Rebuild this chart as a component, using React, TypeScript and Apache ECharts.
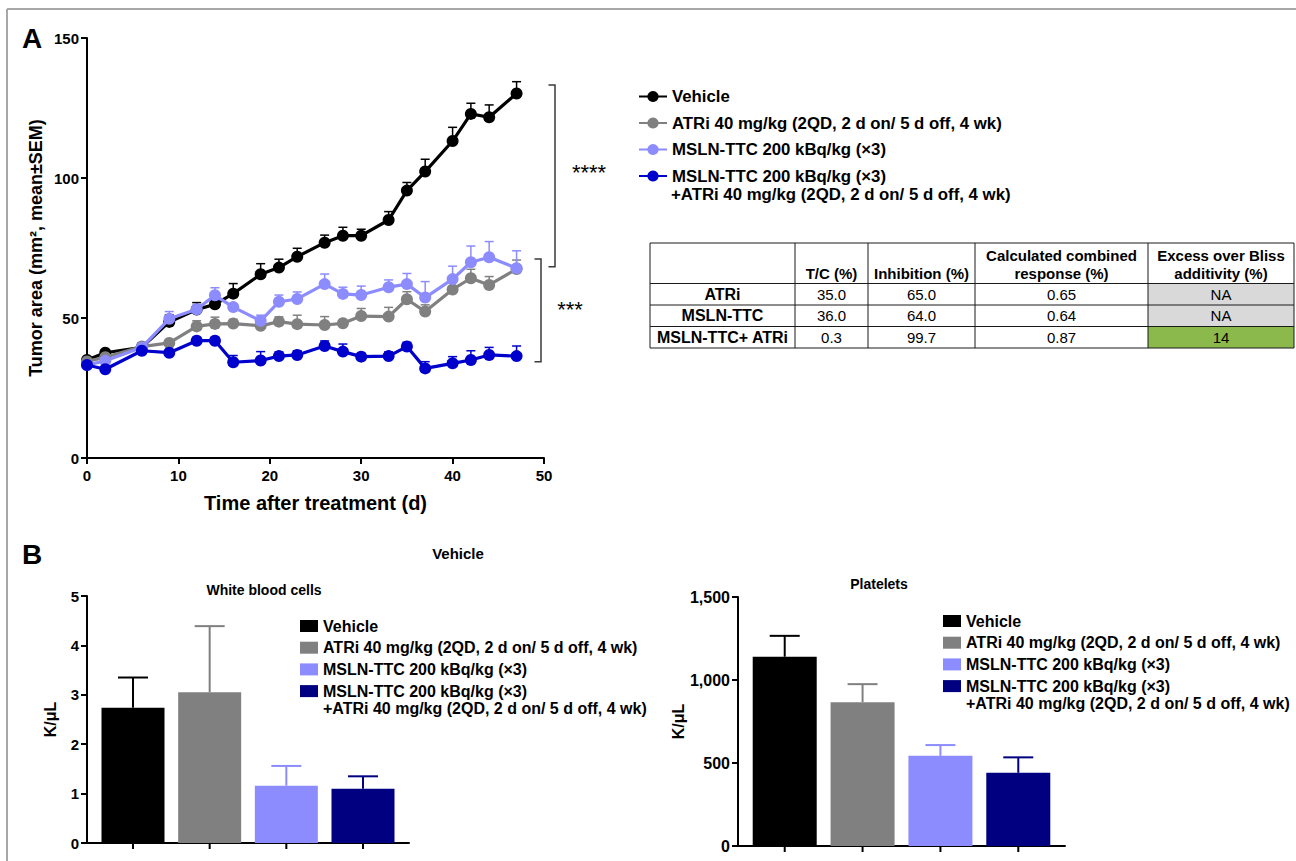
import React, { useEffect, useRef } from 'react';
import * as echarts from 'echarts';

const FONT = "'Liberation Sans', Arial, Helvetica, sans-serif";

const treatmentNames = [
  'Vehicle',
  'ATRi 40 mg/kg (2QD, 2 d on/ 5 d off, 4 wk)',
  'MSLN-TTC 200 kBq/kg (×3)',
  'MSLN-TTC 200 kBq/kg (×3)\n+ATRi 40 mg/kg (2QD, 2 d on/ 5 d off, 4 wk)',
];
const lineColors = ['#000000', '#808080', '#8c8cff', '#0000cc'];
const barColors = ['#000000', '#808080', '#8c8cff', '#000080'];

// Panel A: tumor area (mm², mean ± SEM)
const days = [0, 2, 6, 9, 12, 14, 16, 19, 21, 23, 26, 28, 30, 33, 35, 37, 40, 42, 44, 47];
const vehicleMean = [35.0, 37.6, 39.5, 48.6, 53.0, 54.9, 58.7, 65.6, 68.0, 71.9, 76.9, 79.4, 79.4, 85.0, 95.5, 102.3, 113.2, 122.9, 121.7, 130.2];
const vehicleSem = [0.5, 1.0, 1.5, 2.5, 2.5, 2.0, 3.6, 3.8, 3.0, 3.0, 2.7, 3.0, 2.3, 3.0, 2.9, 4.4, 4.9, 3.8, 4.4, 4.2];
const atriMean = [34.5, 36.0, 39.8, 41.1, 47.0, 47.9, 48.0, 47.2, 48.7, 47.8, 47.5, 48.1, 50.7, 50.5, 56.7, 52.3, 60.2, 64.2, 61.8, 67.5];
const atriSem = [0.5, 0.8, 1.2, 1.0, 2.0, 2.4, 1.5, 1.0, 1.7, 3.2, 3.0, 0.6, 2.7, 3.3, 2.7, 2.4, 2.7, 3.2, 3.0, 3.2];
const mslnMean = [33.2, 34.7, 39.5, 49.7, 53.1, 58.1, 53.9, 49.0, 55.8, 56.8, 62.1, 58.6, 58.2, 61.0, 62.1, 57.3, 63.9, 69.9, 71.7, 67.8];
const mslnSem = [0.5, 1.0, 1.0, 2.6, 1.5, 2.7, 1.0, 2.0, 2.4, 2.5, 3.6, 2.4, 3.2, 2.6, 3.8, 5.7, 4.6, 5.8, 5.6, 6.2];
const comboMean = [33.2, 31.7, 38.3, 37.6, 41.9, 41.9, 34.2, 34.8, 36.4, 36.8, 40.0, 38.0, 36.2, 36.4, 39.8, 32.0, 33.8, 35.0, 36.8, 36.4];
const comboSem = [0.5, 0.8, 1.0, 1.0, 1.2, 1.2, 2.4, 3.2, 1.5, 1.5, 1.8, 2.7, 1.2, 1.5, 1.5, 2.4, 2.4, 3.3, 2.7, 3.6];

// significance brackets (value range on the y axis)
const bracketTop = [133.2, 71.1];
const bracketBottom = [68.3, 34.4];
const bracketLabels = ['****', '***'];

// Panel B
const wbcMean = [2.74, 3.05, 1.16, 1.10];
const wbcSem = [0.61, 1.34, 0.40, 0.25];
const pltMean = [1140, 866, 543, 441];
const pltSem = [126, 109, 65, 93];
const wbcTicks = { min: 0, max: 5, interval: 1 };
const pltTicks = { min: 0, max: 1500, interval: 500 };

// Table
const tableHeader = ['', 'T/C (%)', 'Inhibition (%)', 'Calculated combined\nresponse (%)', 'Excess over Bliss\nadditivity (%)'];
const tableRowLabels = ['ATRi', 'MSLN-TTC', 'MSLN-TTC+ ATRi'];
const tcValues = ['35.0', '36.0', '0.3'];
const inhibitionValues = ['65.0', '64.0', '99.7'];
const combinedValues = ['0.65', '0.64', '0.87'];
const excessValues = ['NA', 'NA', '14'];
const excessFill = ['#d9d9d9', '#d9d9d9', '#8bb94b'];

const wbcNames = treatmentNames.map((n) => n + '\u200b');
const pltNames = treatmentNames.map((n) => n + '\u200b\u200b');
const stripName = (n: string) => n.replace(/\u200b/g, '').split('\n')[0];
const secondLine = treatmentNames[3].split('\n')[1];

const axisText = { fontFamily: FONT, fontSize: 15, fontWeight: 'bold', color: '#000' };
const axisLine = { show: true, onZero: false, lineStyle: { color: '#000', width: 2 } };
const axisTick = { show: true, length: 6, lineStyle: { color: '#000', width: 2 } };

function buildOption() {
  const lineMeans = [vehicleMean, atriMean, mslnMean, comboMean];
  const lineSems = [vehicleSem, atriSem, mslnSem, comboSem];
  const series: any[] = [];

  lineMeans.forEach((m, k) => {
    series.push({
      type: 'custom',
      xAxisIndex: 0,
      yAxisIndex: 0,
      z: 2,
      silent: true,
      clip: false,
      encode: { x: 0, y: 1 },
      data: days.map((d, i) => [d, m[i], lineSems[k][i]]),
      renderItem: (_p: any, api: any) => {
        const x = api.value(0);
        const v = api.value(1);
        const e = api.value(2);
        const p0 = api.coord([x, v]);
        const p1 = api.coord([x, v + e]);
        return {
          type: 'group',
          children: [
            { type: 'line', shape: { x1: p0[0], y1: p0[1], x2: p1[0], y2: p1[1] }, style: { stroke: lineColors[k], lineWidth: 1.5 } },
            { type: 'line', shape: { x1: p1[0] - 4.5, y1: p1[1], x2: p1[0] + 4.5, y2: p1[1] }, style: { stroke: lineColors[k], lineWidth: 1.5 } },
          ],
        };
      },
    });
  });

  lineMeans.forEach((m, k) => {
    series.push({
      type: 'line',
      name: treatmentNames[k],
      xAxisIndex: 0,
      yAxisIndex: 0,
      data: days.map((d, i) => [d, m[i]]),
      symbol: 'circle',
      symbolSize: 12,
      clip: false,
      z: 3 + k,
      silent: true,
      lineStyle: { width: 3.2, color: lineColors[k] },
      itemStyle: { color: lineColors[k] },
      emphasis: { disabled: true },
    });
  });

  const addBars = (means: number[], sems: number[], names: string[], axis: number, width: number) => {
    means.forEach((v, k) => {
      series.push({
        type: 'bar',
        name: names[k],
        xAxisIndex: axis,
        yAxisIndex: axis,
        data: [[k, v]],
        barWidth: width,
        barGap: '-100%',
        silent: true,
        itemStyle: { color: barColors[k] },
        emphasis: { disabled: true },
      });
    });
    series.push({
      type: 'custom',
      xAxisIndex: axis,
      yAxisIndex: axis,
      z: 3,
      silent: true,
      clip: false,
      encode: { x: 0, y: 1 },
      data: means.map((v, k) => [k, v, sems[k]]),
      renderItem: (_p: any, api: any) => {
        const x = api.value(0);
        const v = api.value(1);
        const e = api.value(2);
        const c = barColors[Math.round(x)];
        const p0 = api.coord([x, v]);
        const p1 = api.coord([x, v + e]);
        const pb = api.coord([x, 0]);
        return {
          type: 'group',
          children: [
            { type: 'line', shape: { x1: p0[0], y1: p0[1], x2: p1[0], y2: p1[1] }, style: { stroke: c, lineWidth: 2 } },
            { type: 'line', shape: { x1: p1[0] - 15, y1: p1[1], x2: p1[0] + 15, y2: p1[1] }, style: { stroke: c, lineWidth: 2 } },
            { type: 'line', shape: { x1: pb[0], y1: pb[1], x2: pb[0], y2: pb[1] + 6 }, style: { stroke: '#000', lineWidth: 2 } },
          ],
        };
      },
    });
  };
  addBars(wbcMean, wbcSem, wbcNames, 1, 63);
  addBars(pltMean, pltSem, pltNames, 2, 64);

  const legendText = { fontFamily: FONT, fontSize: 16, fontWeight: 'bold', color: '#000', lineHeight: 17 };

  return {
    animation: false,
    backgroundColor: '#ffffff',
    textStyle: { fontFamily: FONT },
    grid: [
      { left: 87, top: 38, width: 457, height: 420 },
      { left: 87, top: 596, width: 322, height: 247 },
      { left: 738, top: 597, width: 327, height: 249 },
    ],
    xAxis: [
      {
        gridIndex: 0, type: 'value', min: 0, max: 50, interval: 10,
        axisLine, axisTick, splitLine: { show: false },
        axisLabel: { ...axisText, margin: 10 },
        name: 'Time after treatment (d)', nameLocation: 'middle', nameGap: 35,
        nameTextStyle: { fontFamily: FONT, fontSize: 20, fontWeight: 'bold', color: '#000' },
      },
      { gridIndex: 1, type: 'value', min: -0.6, max: 3.6, axisLine, axisTick: { show: false }, axisLabel: { show: false }, splitLine: { show: false } },
      { gridIndex: 2, type: 'value', min: -0.6, max: 3.6, axisLine, axisTick: { show: false }, axisLabel: { show: false }, splitLine: { show: false } },
    ],
    yAxis: [
      {
        gridIndex: 0, type: 'value', min: 0, max: 150, interval: 50,
        axisLine, axisTick, splitLine: { show: false },
        axisLabel: { ...axisText, margin: 8 },
        name: 'Tumor area (mm², mean±SEM)', nameLocation: 'middle', nameGap: 42,
        nameTextStyle: { fontFamily: FONT, fontSize: 18, fontWeight: 'bold', color: '#000' },
      },
      {
        gridIndex: 1, type: 'value', ...wbcTicks,
        axisLine, axisTick, splitLine: { show: false },
        axisLabel: { ...axisText, margin: 8 },
        name: 'K/μL', nameLocation: 'middle', nameGap: 29,
        nameTextStyle: { fontFamily: FONT, fontSize: 16, fontWeight: 'bold', color: '#000' },
      },
      {
        gridIndex: 2, type: 'value', ...pltTicks,
        axisLine, axisTick, splitLine: { show: false },
        axisLabel: { ...axisText, fontSize: 16, margin: 8, formatter: (v: number) => v.toLocaleString('en-US') },
        name: 'K/μL', nameLocation: 'middle', nameGap: 40,
        nameTextStyle: { fontFamily: FONT, fontSize: 16, fontWeight: 'bold', color: '#000' },
      },
    ],
    legend: [
      {
        data: treatmentNames, orient: 'vertical', left: 638, top: 88, padding: 0,
        itemWidth: 28, itemHeight: 14, itemGap: 9.5, selectedMode: false,
        formatter: stripName, textStyle: { ...legendText, fontSize: 16.8 },
      },
      {
        data: wbcNames.map((n) => ({ name: n, icon: 'rect' })), orient: 'vertical', left: 300, top: 617.5, padding: 0,
        itemWidth: 18, itemHeight: 12, itemGap: 4.7, selectedMode: false,
        formatter: stripName, textStyle: legendText,
      },
      {
        data: pltNames.map((n) => ({ name: n, icon: 'rect' })), orient: 'vertical', left: 943, top: 612.5, padding: 0,
        itemWidth: 18, itemHeight: 12, itemGap: 4.7, selectedMode: false,
        formatter: stripName, textStyle: legendText,
      },
    ],
    series,
  };
}

function txt(text: string, x: number, y: number, size: number, bold: boolean, align = 'center', vAlign = 'middle', extra: any = {}) {
  return {
    type: 'text', silent: true, z: 10,
    style: { text, x, y, fontFamily: FONT, fontSize: size, fontWeight: bold ? 'bold' : 'normal', fill: '#000', align, verticalAlign: vAlign, ...extra },
  };
}

function buildGraphics(chart: echarts.ECharts) {
  const els: any[] = [];
  // frame
  els.push({ type: 'line', silent: true, shape: { x1: 7, y1: 9, x2: 1296, y2: 9 }, style: { stroke: '#a8a8a8', lineWidth: 2 } });
  els.push({ type: 'line', silent: true, shape: { x1: 7, y1: 9, x2: 7, y2: 861 }, style: { stroke: '#a8a8a8', lineWidth: 2 } });
  // panel letters & titles
  els.push(txt('A', 22, 38, 28, true, 'left'));
  els.push(txt('B', 22, 554, 28, true, 'left'));
  els.push(txt('Vehicle', 458, 553, 15, true));
  els.push(txt('White blood cells', 264, 590, 14, true));
  els.push(txt('Platelets', 879, 584, 14, true));
  // legend second lines
  els.push(txt(secondLine, 671, 194, 16.8, true, 'left'));
  els.push(txt(secondLine, 323, 708, 16, true, 'left'));
  els.push(txt(secondLine, 966, 703, 16, true, 'left'));

  // brackets
  const bx = [555, 541];
  bracketTop.forEach((t, i) => {
    const yt = chart.convertToPixel({ gridIndex: 0 } as any, [0, t]) as number[];
    const yb = chart.convertToPixel({ gridIndex: 0 } as any, [0, bracketBottom[i]]) as number[];
    const x = bx[i];
    const st = { stroke: '#3a3a3a', lineWidth: 1.5 };
    els.push({ type: 'polyline', silent: true, shape: { points: [[x - 6.5, yt[1]], [x, yt[1]], [x, yb[1]], [x - 6.5, yb[1]]] }, style: { ...st, fill: 'none' } });
    els.push(txt(bracketLabels[i], x + (i === 0 ? 34 : 29), (yt[1] + yb[1]) / 2 + (i === 0 ? -3 : -1), 22, false));
  });

  // table
  const colX = [650, 795, 868, 975, 1148, 1294];
  const rowY = [243, 283.5, 305, 326.5, 348];
  const colC = colX.slice(0, 5).map((x, i) => (x + colX[i + 1]) / 2);
  excessFill.forEach((f, r) => {
    els.push({ type: 'rect', silent: true, shape: { x: colX[4], y: rowY[r + 1], width: colX[5] - colX[4], height: rowY[r + 2] - rowY[r + 1] }, style: { fill: f } });
  });
  rowY.forEach((y) => {
    els.push({ type: 'line', silent: true, z: 5, shape: { x1: colX[0], y1: y, x2: colX[5], y2: y }, style: { stroke: '#1a1a1a', lineWidth: 1 } });
  });
  colX.forEach((x) => {
    els.push({ type: 'line', silent: true, z: 5, shape: { x1: x, y1: rowY[0], x2: x, y2: rowY[4] }, style: { stroke: '#1a1a1a', lineWidth: 1 } });
  });
  tableHeader.forEach((h, c) => {
    if (h) els.push(txt(h, colC[c], 282, 15, true, 'center', 'bottom', { lineHeight: 18 }));
  });
  const cols = [tcValues, inhibitionValues, combinedValues, excessValues];
  tableRowLabels.forEach((label, r) => {
    const cy = (rowY[r + 1] + rowY[r + 2]) / 2;
    els.push(txt(label, colC[0], cy, 16, true));
    cols.forEach((col, c) => {
      els.push(txt(col[r], colC[c + 1], cy, 15, false));
    });
  });
  return els;
}

export default function App() {
  const ref = useRef<HTMLDivElement>(null);
  useEffect(() => {
    if (!ref.current) return;
    const chart = echarts.init(ref.current, null, { renderer: 'svg' });
    chart.setOption(buildOption() as any);
    chart.setOption({ graphic: { elements: buildGraphics(chart) } } as any);
    return () => chart.dispose();
  }, []);
  return <div ref={ref} style={{ position: 'absolute', left: 0, top: 0, width: 1296, height: 861, background: '#fff' }} />;
}
